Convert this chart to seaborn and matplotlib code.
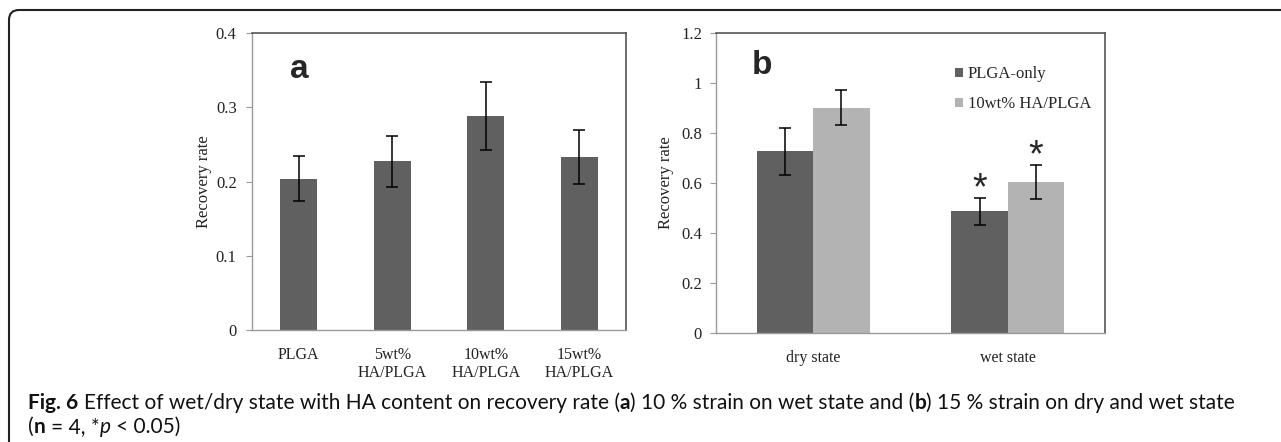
import matplotlib
matplotlib.use("Agg")
import matplotlib.pyplot as plt
import matplotlib.patches as mpatches
from matplotlib.transforms import IdentityTransform
import pandas as pd
import seaborn as sns

sns.set_theme(style="white")
plt.rcParams['font.family'] = ['Liberation Serif', 'DejaVu Serif']

# panel a: recovery rate at 10 % strain, wet state
a_labels = ["PLGA", "5wt%\nHA/PLGA", "10wt%\nHA/PLGA", "15wt%\nHA/PLGA"]
a_mean = [0.204, 0.227, 0.288, 0.233]
a_err = [0.030, 0.034, 0.046, 0.036]

# panel b: recovery rate at 15 % strain, dry vs wet
b_states = ["dry state", "wet state"]
b_groups = ["PLGA-only", "10wt% HA/PLGA"]
b_mean = {"PLGA-only": [0.727, 0.488], "10wt% HA/PLGA": [0.902, 0.605]}
b_err = {"PLGA-only": [0.095, 0.054], "10wt% HA/PLGA": [0.070, 0.067]}
b_signif = {"PLGA-only": [False, True], "10wt% HA/PLGA": [False, True]}

dark = "#606060"
light = "#b3b3b3"

W, H = 1281, 442
fig = plt.figure(figsize=(W / 100, H / 100), dpi=100)
ax_a = fig.add_axes([252 / W, 1 - 330 / H, 374 / W, 297 / H])
ax_b = fig.add_axes([716 / W, 1 - 333 / H, 389 / W, 300 / H])


def style_axis(ax, ymax, step, pad, ncat):
    ax.set_ylim(0, ymax)
    ax.set_xlim(-0.5, ncat - 0.5)
    ticks = [round(i * step, 2) for i in range(int(round(ymax / step)) + 1)]
    ax.set_yticks(ticks)
    ax.set_yticklabels(["0" if t == 0 else f"{t:g}" for t in ticks])
    for side in ["left", "bottom"]:
        ax.spines[side].set_color("#9a9a9a")
        ax.spines[side].set_linewidth(1.0)
    for side in ["top", "right"]:
        ax.spines[side].set_color("#555555")
        ax.spines[side].set_linewidth(1.2)
    ax.tick_params(axis="y", left=True, direction="out", length=4, width=0.8,
                   color="#9a9a9a", labelsize=12, labelcolor="#222222", pad=pad)
    ax.tick_params(axis="x", bottom=False, labelsize=11.5, labelcolor="#222222", pad=6)
    ax.set_xlabel("")
    ax.set_ylabel("Recovery rate", fontsize=12, color="#222222")


def add_errors(ax, bars, errs):
    for bar, e in zip(bars, errs):
        cx = bar.get_x() + bar.get_width() / 2
        ax.errorbar(cx, bar.get_height(), yerr=e, fmt="none", ecolor="black",
                    elinewidth=1.1, capsize=4, capthick=1.1, zorder=3)


# ---- panel a
df_a = pd.DataFrame({"group": a_labels, "rate": a_mean})
sns.barplot(data=df_a, x="group", y="rate", color=dark, saturation=1,
            width=0.4, errorbar=None, linewidth=0, ax=ax_a)
add_errors(ax_a, ax_a.patches, a_err)
style_axis(ax_a, 0.4, 0.1, 7, len(a_labels))
ax_a.yaxis.set_label_coords(-0.107, 0.5)
ax_a.text(0.102, 0.878, "a", transform=ax_a.transAxes, fontsize=24,
          fontweight="bold", family="Liberation Sans", va="center", ha="left")

# ---- panel b
rows = []
for g in b_groups:
    for s, m in zip(b_states, b_mean[g]):
        rows.append({"state": s, "group": g, "rate": m})
df_b = pd.DataFrame(rows)
sns.barplot(data=df_b, x="state", y="rate", hue="group", hue_order=b_groups,
            palette=[dark, light], saturation=1, width=0.58, errorbar=None,
            linewidth=0, ax=ax_b)
for g, cont in zip(b_groups, ax_b.containers):
    add_errors(ax_b, cont, b_err[g])
    for bar, e, sig in zip(cont, b_err[g], b_signif[g]):
        if sig:
            cx = bar.get_x() + bar.get_width() / 2
            ax_b.annotate("*", (cx, bar.get_height() + e), xytext=(0, -7),
                          textcoords="offset points", ha="center", va="bottom",
                          fontsize=27, family="Liberation Sans")
style_axis(ax_b, 1.2, 0.2, 6, len(b_states))
ax_b.yaxis.set_label_coords(-0.108, 0.5)
ax_b.text(0.093, 0.89, "b", transform=ax_b.transAxes, fontsize=24,
          fontweight="bold", family="Liberation Sans", va="center", ha="left")
ax_b.legend(loc="upper left", bbox_to_anchor=(0.615, 0.89), frameon=False,
            fontsize=12, handlelength=0.45, handleheight=0.45,
            handletextpad=0.3, labelspacing=0.85, borderpad=0, borderaxespad=0)

# ---- caption, drawn run by run so parts can be bold / italic
cap_font = ["Lato", "Open Sans", "DejaVu Sans"]
cap_size = 15
renderer = fig.canvas.get_renderer()


def text_width(s, **kw):
    t = fig.text(0, 0, s, transform=IdentityTransform(), **kw)
    w = t.get_window_extent(renderer).width
    t.remove()
    return w


space_w = text_width("x x", family=cap_font, fontsize=cap_size) - \
    text_width("xx", family=cap_font, fontsize=cap_size)


def draw_runs(x, y, runs):
    for s, weight, style in runs:
        kw = dict(family=cap_font, fontsize=cap_size, fontweight=weight, fontstyle=style)
        lead = len(s) - len(s.lstrip(" "))
        trail = len(s) - len(s.rstrip(" "))
        core = s.strip(" ")
        x += lead * space_w
        if core:
            fig.text(x, y, core, transform=IdentityTransform(), color="#111111",
                     ha="left", va="baseline", **kw)
            x += text_width(core, **kw)
        x += trail * space_w


draw_runs(28, H - 409, [
    ("Fig. 6", "bold", "normal"),
    (" Effect of wet/dry state with HA content on recovery rate (", "normal", "normal"),
    ("a", "bold", "normal"),
    (") 10 % strain on wet state and (", "normal", "normal"),
    ("b", "bold", "normal"),
    (") 15 % strain on dry and wet state", "normal", "normal"),
])
draw_runs(28, H - 433, [
    ("(", "normal", "normal"),
    ("n", "bold", "normal"),
    (" = 4, *", "normal", "normal"),
    ("p", "normal", "italic"),
    (" < 0.05)", "normal", "normal"),
])

# rounded frame (top and left edges only visible)
frame = mpatches.FancyBboxPatch((9, -40), W + 60, H - 10 + 40,
                                boxstyle="round,pad=0,rounding_size=10",
                                transform=IdentityTransform(), fill=False,
                                edgecolor="#222222", linewidth=1.5)
fig.patches.append(frame)

fig.savefig("out.png", dpi=100)
